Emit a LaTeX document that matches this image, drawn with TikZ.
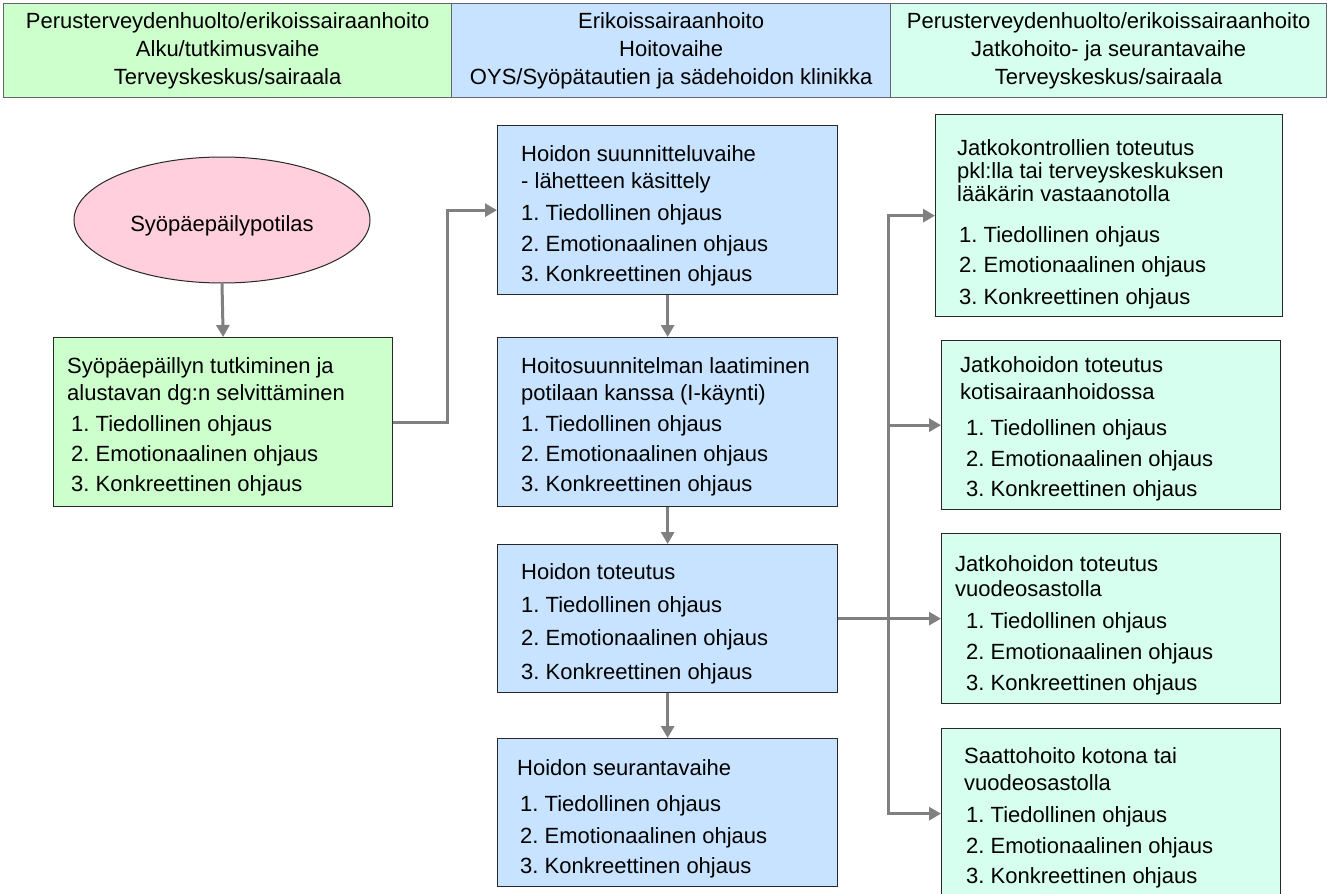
\documentclass[tikz,border=0pt]{standalone}
\usepackage{fontspec}
\setmainfont{Liberation Sans}
\usetikzlibrary{arrows.meta,shapes.geometric,calc}
\definecolor{cgreen}{RGB}{204,255,204}
\definecolor{cblue}{RGB}{200,227,255}
\definecolor{cmint}{RGB}{214,255,240}
\definecolor{cpink}{RGB}{255,207,222}
\definecolor{cgray}{RGB}{128,128,128}
\definecolor{cborder}{RGB}{40,40,40}
\definecolor{chdr}{RGB}{100,100,110}
\newcommand\bxtext[1]{\parbox[t]{330pt}{\raggedright\frenchspacing\fontsize{22}{27}\selectfont #1}}
\frenchspacing
\begin{document}
\begin{tikzpicture}[x=1pt,y=-1pt,
  hdr/.style={draw=chdr, line width=1.3pt, anchor=north west, align=center, inner sep=0pt,
    minimum height=94pt, font=\fontsize{22}{28}\selectfont},
  box/.style={draw=cborder, line width=1.3pt, anchor=north west, inner sep=0pt},
  txt/.style={anchor=base west, inner sep=0pt},
  conn/.style={draw=cgray, line width=3pt, -{Triangle[length=12pt,width=13pt]}}]
\useasboundingbox (0,0) rectangle (1334,894);
\clip (0,0) rectangle (1334,894);
% header
\node[hdr, fill=cgreen, minimum width=448pt] (h1) at (3,3)
  {Perusterveydenhuolto/erikoissairaanhoito\\Alku/tutkimusvaihe\\Terveyskeskus/sairaala};
\node[hdr, fill=cblue, minimum width=439pt] (h2) at (451,3)
  {Erikoissairaanhoito\\Hoitovaihe\\OYS/Syöpätautien ja sädehoidon klinikka};
\node[hdr, fill=cmint, minimum width=436pt] (h3) at (890,3)
  {Perusterveydenhuolto/erikoissairaanhoito\\Jatkohoito- ja seurantavaihe\\Terveyskeskus/sairaala};
% ellipse
\node[ellipse, draw=cborder, line width=1pt, fill=cpink, minimum width=296pt, minimum height=126pt,
  inner sep=0pt, text height=22pt, text depth=0pt, font=\fontsize{22}{27}\selectfont] (e) at (222,220) {Syöpäepäilypotilas};
% boxes
\node[box, fill=cgreen, minimum width=339pt, minimum height=169pt] (g) at (53,337) {};
\node[box, fill=cblue, minimum width=340pt, minimum height=169pt] (b1) at (497,125) {};
\node[box, fill=cblue, minimum width=340pt, minimum height=169pt] (b2) at (497,337) {};
\node[box, fill=cblue, minimum width=340pt, minimum height=148pt] (b3) at (497,544) {};
\node[box, fill=cblue, minimum width=340pt, minimum height=148pt] (b4) at (497,738) {};
\node[box, fill=cmint, minimum width=347pt, minimum height=202pt] (A) at (935,114) {};
\node[box, fill=cmint, minimum width=339pt, minimum height=169pt] (B) at (941,340) {};
\node[box, fill=cmint, minimum width=339pt, minimum height=170pt] (C) at (941,533) {};
\node[box, fill=cmint, minimum width=339pt, minimum height=170pt] (D) at (941,728) {};
% texts
\node[txt] (gt) at ($(g.north west)+(14,36.5)$) {\bxtext{Syöpäepäillyn tutkiminen ja\\alustavan dg:n selvittäminen\\[4pt]
   \hspace*{4pt}1. Tiedollinen ohjaus\\[3pt]\hspace*{4pt}2. Emotionaalinen ohjaus\\[3pt]\hspace*{4pt}3. Konkreettinen ohjaus}};
\node[txt] (b1t) at ($(b1.north west)+(24,36.5)$) {\bxtext{Hoidon suunnitteluvaihe\\- lähetteen käsittely\\[5pt]
   1. Tiedollinen ohjaus\\[4pt]2. Emotionaalinen ohjaus\\[3pt]3. Konkreettinen ohjaus}};
\node[txt] (b2t) at ($(b2.north west)+(24,36.5)$) {\bxtext{Hoitosuunnitelman laatiminen\\potilaan kanssa (I-käynti)\\[4pt]
   1. Tiedollinen ohjaus\\[3pt]2. Emotionaalinen ohjaus\\[3pt]3. Konkreettinen ohjaus}};
\node[txt] (b3t) at ($(b3.north west)+(24,35.5)$) {\bxtext{Hoidon toteutus\\[6pt]
   1. Tiedollinen ohjaus\\[6pt]2. Emotionaalinen ohjaus\\[7pt]3. Konkreettinen ohjaus}};
\node[txt] (b4t) at ($(b4.north west)+(20,37.5)$) {\bxtext{Hoidon seurantavaihe\\[9pt]
   \hspace*{3pt}1. Tiedollinen ohjaus\\[5pt]\hspace*{3pt}2. Emotionaalinen ohjaus\\[3pt]\hspace*{3pt}3. Konkreettinen ohjaus}};
\node[txt] (At) at ($(A.north west)+(22,41.5)$) {\bxtext{Jatkokontrollien toteutus\\[-4pt]pkl:lla tai terveyskeskuksen\\[-4pt]lääkärin vastaanotolla\\[14pt]
   \hspace*{2pt}1. Tiedollinen ohjaus\\[3pt]\hspace*{2pt}2. Emotionaalinen ohjaus\\[5pt]\hspace*{2pt}3. Konkreettinen ohjaus}};
\node[txt] (Bt) at ($(B.north west)+(19,32.5)$) {\bxtext{Jatkohoidon toteutus\\kotisairaanhoidossa\\[9pt]
   \hspace*{6pt}1. Tiedollinen ohjaus\\[4pt]\hspace*{6pt}2. Emotionaalinen ohjaus\\[3pt]\hspace*{6pt}3. Konkreettinen ohjaus}};
\node[txt] (Ct) at ($(C.north west)+(14,38.5)$) {\bxtext{Jatkohoidon toteutus\\[-2pt]vuodeosastolla\\[5pt]
   \hspace*{11pt}1. Tiedollinen ohjaus\\[4pt]\hspace*{11pt}2. Emotionaalinen ohjaus\\[4pt]\hspace*{11pt}3. Konkreettinen ohjaus}};
\node[txt] (Dt) at ($(D.north west)+(23,35.5)$) {\bxtext{Saattohoito kotona tai\\vuodeosastolla\\[5pt]
   \hspace*{2pt}1. Tiedollinen ohjaus\\[4pt]\hspace*{2pt}2. Emotionaalinen ohjaus\\[3pt]\hspace*{2pt}3. Konkreettinen ohjaus}};
% connectors
\draw[conn] (e.south) -- (g.north);
\draw[conn] (g.east) -- ++(54,0) |- (b1.west);
\draw[conn] (b1.south) -- (b2.north);
\draw[conn] (b2.south) -- (b3.north);
\draw[conn] (b3.south) -- (b4.north);
\coordinate (j) at ($(b3.east)+(50,0)$);
\draw[conn] (b3.east) -- (C.west);
\draw[conn] (j) |- (A.west);
\draw[conn] (j) |- (B.west);
\draw[conn] (j) |- (D.west);
\end{tikzpicture}
\end{document}
